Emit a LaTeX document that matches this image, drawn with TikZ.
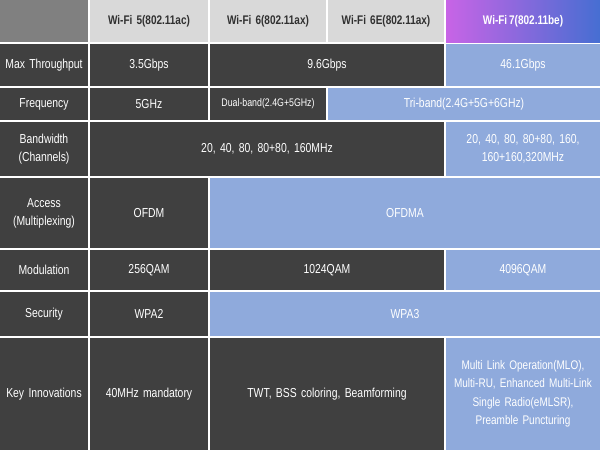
\documentclass[tikz,border=0pt]{standalone}
\usepackage{fontspec}
\setmainfont{Liberation Sans}[FakeStretch=0.8,WordSpace={0.7}]
\definecolor{dk}{HTML}{404040}
\definecolor{lb}{HTML}{8FAADC}
\definecolor{hg}{HTML}{D9D9D9}
\definecolor{tl}{HTML}{808080}
\definecolor{ht}{HTML}{303030}
\tikzset{
 cellbase/.style={inner sep=0pt,align=center,font=\fontsize{13}{18}\selectfont,text=white},
 dkc/.style={cellbase,fill=dk},
 lbc/.style={cellbase,fill=lb},
 hdc/.style={cellbase,fill=hg,text=ht,font=\fontsize{12.5}{14}\selectfont\bfseries},
}
\newcommand\cellx[7][]{%
 \node[#2,#1,minimum width={(#5-#4)*1pt},minimum height={(#7-#6)*1pt},text width={(#5-#4-4)*1pt}]
  (#3) at ({(#4+#5)/2*1pt},{-(#6+#7)/2*1pt}) {};}
\newcommand\cell[8][]{\cellx[#1]{#2}{#3}{#4}{#5}{#6}{#7}\node[cellbase,#2,#1,fill=none,text width={(#5-#4-4)*1pt}] (#3t) at (#3) {#8};}
\begin{document}
\begin{tikzpicture}
\useasboundingbox[fill=white] (0,0) rectangle (600pt,-450pt);
% header
\cell{hdc,fill=tl}{h0}{0}{88}{0}{42}{}
\cell{hdc}{h1}{90}{208}{0}{42}{Wi-Fi 5(802.11ac)}
\cell{hdc}{h2}{210}{326}{0}{42}{Wi-Fi 6(802.11ax)}
\cell{hdc}{h3}{328}{444}{0}{42}{Wi-Fi 6E(802.11ax)}
\shade[left color={rgb,255:red,200;green,100;blue,230},right color={rgb,255:red,70;green,110;blue,210}] (446pt,0) rectangle (600pt,-42pt);
\node[cellbase,font=\fontsize{12.5}{14}\selectfont\bfseries] (h4) at (523pt,-21pt) {Wi-Fi 7(802.11be)};
% row1
\cell{dkc}{a0}{0}{88}{44}{86}{Max Throughput}
\cell{dkc}{a1}{90}{208}{44}{86}{3.5Gbps}
\cell{dkc}{a2}{210}{444}{44}{86}{9.6Gbps}
\cell{lbc}{a4}{446}{600}{44}{86}{46.1Gbps}
% row2
\cell{dkc}{b0}{0}{88}{88}{120}{Frequency}
\cell{dkc}{b1}{90}{208}{88}{120}{5GHz}
\cell[font=\fontsize{11}{12}\selectfont]{dkc}{b2}{210}{326}{88}{120}{Dual-band(2.4G+5GHz)}
\cell{lbc}{b3}{328}{600}{88}{120}{Tri-band(2.4G+5G+6GHz)}
% row3
\cell{dkc}{c0}{0}{88}{122}{176}{Bandwidth\\(Channels)}
\cell{dkc}{c1}{90}{444}{122}{176}{20, 40, 80, 80+80, 160MHz}
\cell{lbc}{c4}{446}{600}{122}{176}{20, 40, 80, 80+80, 160,\\160+160,320MHz}
% row4
\cell{dkc}{d0}{0}{88}{178}{248}{Access\\(Multiplexing)}
\cell{dkc}{d1}{90}{208}{178}{248}{OFDM}
\cell{lbc}{d2}{210}{600}{178}{248}{OFDMA}
% row5
\cell{dkc}{e0}{0}{88}{250}{290}{Modulation}
\cell{dkc}{e1}{90}{208}{250}{290}{256QAM}
\cell{dkc}{e2}{210}{444}{250}{290}{1024QAM}
\cell{lbc}{e4}{446}{600}{250}{290}{4096QAM}
% row6
\cell{dkc}{f0}{0}{88}{292}{336}{Security}
\cell{dkc}{f1}{90}{208}{292}{336}{WPA2}
\cell{lbc}{f2}{210}{600}{292}{336}{WPA3}
% row7
\cell{dkc}{g0}{0}{88}{338}{450}{Key Innovations}
\cell{dkc}{g1}{90}{208}{338}{450}{40MHz mandatory}
\cell{dkc}{g2}{210}{444}{338}{450}{TWT, BSS coloring, Beamforming}
\cell[font=\fontsize{12.5}{18.5}\selectfont]{lbc}{g4}{446}{600}{338}{450}{Multi Link Operation(MLO),\\Multi-RU, Enhanced Multi-Link\\Single Radio(eMLSR),\\Preamble Puncturing}
\end{tikzpicture}
\end{document}
